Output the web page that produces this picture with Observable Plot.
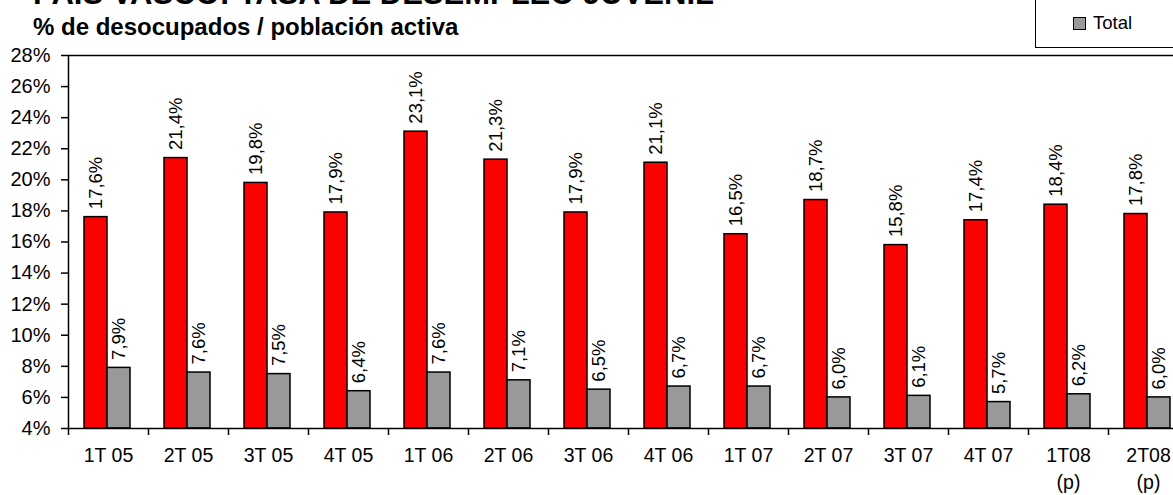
<!DOCTYPE html>
<html>
<head>
<meta charset="utf-8">
<script src="https://cdn.jsdelivr.net/npm/d3@7"></script>
<script src="https://cdn.jsdelivr.net/npm/@observablehq/plot@0.6"></script>
<style>
  html, body { margin: 0; padding: 0; background: #fff; }
  body { width: 1173px; height: 495px; overflow: hidden; position: relative; font-family: Arial, "Liberation Sans", sans-serif; }
  #title { position: absolute; left: 33px; top: -22px; font-weight: bold; font-size: 31px; line-height: 31px; white-space: nowrap; color: #000; }
  #subtitle { position: absolute; left: 33px; top: 15px; font-weight: bold; font-size: 24px; line-height: 24px; white-space: nowrap; color: #000; }
  #legend { position: absolute; left: 1035px; top: -2px; width: 200px; height: 48px; border: 1px solid #000; background: #fff; }
  .lg { position: absolute; left: 37px; font-size: 18.5px; line-height: 20px; white-space: nowrap; }
  .sw { display: inline-block; width: 11px; height: 11px; border: 1px solid #000; margin-right: 7px; vertical-align: -1px; }
  #chart { position: absolute; left: 0; top: 0; width: 1200px; }
  #chart svg { max-width: none !important; }
</style>
</head>
<body>
<div id="chart"></div>
<div id="title">PAÍS VASCO: TASA DE DESEMPLEO JUVENIL</div>
<div id="subtitle">% de desocupados / población activa</div>
<div id="legend">
  <div class="lg" style="top:14px"><span class="sw" style="background:#999999"></span>Total</div>
</div>
<script>
const periods = ["1T 05","2T 05","3T 05","4T 05","1T 06","2T 06","3T 06","4T 06","1T 07","2T 07","3T 07","4T 07","1T08\n(p)","2T08\n(p)"];
const youth = [17.6, 21.4, 19.8, 17.9, 23.1, 21.3, 17.9, 21.1, 16.5, 18.7, 15.8, 17.4, 18.4, 17.8];
const total = [7.9, 7.6, 7.5, 6.4, 7.6, 7.1, 6.5, 6.7, 6.7, 6.0, 6.1, 5.7, 6.2, 6.0];
const yTicks = [4, 6, 8, 10, 12, 14, 16, 18, 20, 22, 24, 26, 28];

const rows = periods.map((p, i) => ({period: p, youth: youth[i], total: total[i]}));
const fmt = v => v.toFixed(1).replace(".", ",") + "%";

const chart = Plot.plot({
  width: 1200,
  height: 495,
  marginTop: 55,
  marginBottom: 67,
  marginLeft: 68,
  marginRight: 12,
  style: {fontFamily: "Arial, 'Liberation Sans', sans-serif", background: "transparent", color: "#000", overflow: "visible", maxWidth: "none"},
  x: {domain: periods, padding: 0, align: 0.5, label: null},
  y: {domain: [4, 28], label: null},
  marks: [
    Plot.barY(rows, {x: "period", y1: 4, y2: "youth", fill: "#ff0000", stroke: "#000", strokeWidth: 1.5, insetLeft: 16, insetRight: 41}),
    Plot.barY(rows, {x: "period", y1: 4, y2: "total", fill: "#999999", stroke: "#000", strokeWidth: 1.5, insetLeft: 39, insetRight: 18}),
    Plot.text(rows, {x: "period", y: "youth", text: d => fmt(d.youth), rotate: -90, textAnchor: "start", dx: -12.5, dy: -8, fontSize: 18.5, fill: "#000"}),
    Plot.text(rows, {x: "period", y: "total", text: d => fmt(d.total), rotate: -90, textAnchor: "start", dx: 10.5, dy: -8, fontSize: 18.5, fill: "#000"}),
    Plot.frame({stroke: "#000", strokeWidth: 1.5}),
    Plot.ruleX(periods, {x: d => d, dx: -40, y1: 4, y2: 4, insetBottom: -7, stroke: "#000", strokeWidth: 1.5}),
    Plot.axisY({ticks: yTicks, tickFormat: d => d + "%", tickSize: 7, tickPadding: 11, fontSize: 20, label: null, strokeWidth: 1.5}),
    Plot.axisX({tickSize: 0, tickPadding: 15, fontSize: 19.5, lineHeight: 1.35, label: null})
  ]
});
document.getElementById("chart").appendChild(chart);
</script>
</body>
</html>
